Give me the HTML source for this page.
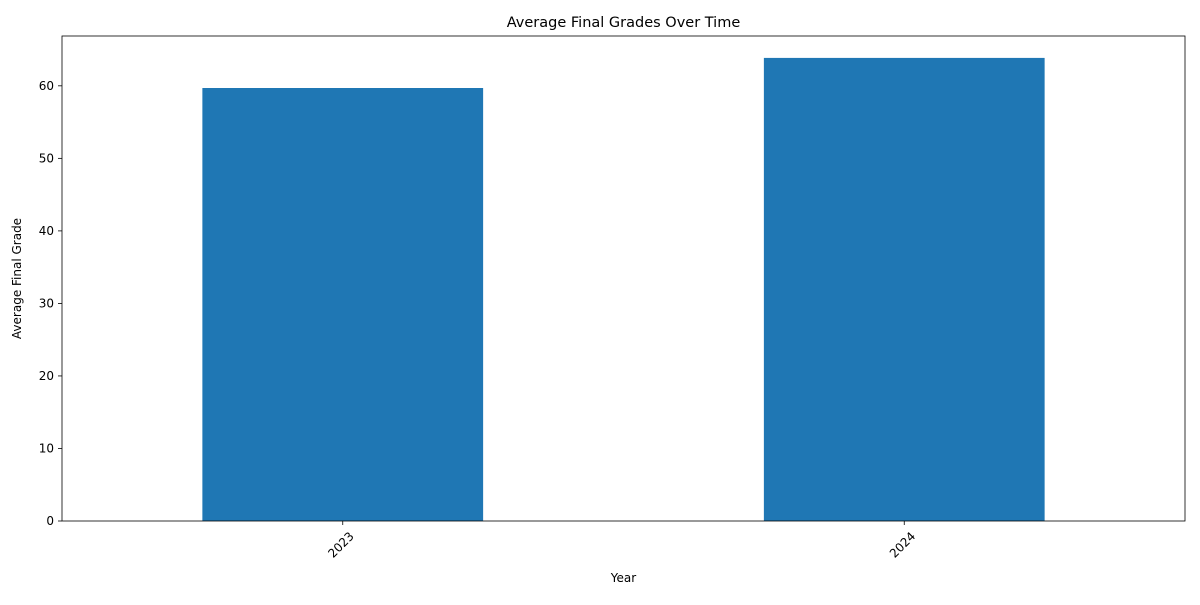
<!DOCTYPE html>
<html><head><meta charset="utf-8"><style>
body{margin:0;background:#fff;font-family:"Liberation Sans","DejaVu Sans",sans-serif;}
svg text{font-family:"DejaVu Sans","Liberation Sans",sans-serif;}
</style></head><body>
<svg id="chart" width="1200" height="600"></svg>
<script>
const categories = ["2023", "2024"];
const values = [59.7, 63.85];
const yTicks = [0, 10, 20, 30, 40, 50, 60];

const L = 62, R = 1185, T = 36, B = 521;
const yMax = 66.87;
const xScale = i => L + (i + 0.5) * (R - L) / categories.length;
const yScale = v => B - v / yMax * (B - T);
const unit = (R - L) / categories.length;
const svg = document.getElementById('chart');
const NS = 'http://www.w3.org/2000/svg';
function mk(tag, attrs, parent) {
  const e = document.createElementNS(NS, tag);
  for (const k in attrs) e.setAttribute(k, attrs[k]);
  (parent || svg).appendChild(e);
  return e;
}

categories.forEach((c, i) => {
  const w = unit * 0.5;
  const r = mk('rect', {x: xScale(i) - w / 2, y: yScale(values[i]), width: w, height: B - yScale(values[i]), fill: '#1f77b4'});
  
  
  const tk = mk('line', {x1: xScale(i), x2: xScale(i), y1: B, y2: B + 4, stroke: '#000', 'stroke-width': 0.8});
  
  
  const lx = xScale(i) + 6, ly = B + 10;
  const t = mk('text', {x: lx, y: ly, 'font-size': 12, 'text-anchor': 'end', transform: `rotate(-45 ${lx} ${ly})`, dy: '0.7em'});
  t.textContent = c;
  
  
});

yTicks.forEach(v => {
  const y = yScale(v);
  const tk = mk('line', {x1: L - 4, x2: L, y1: y, y2: y, stroke: '#000', 'stroke-width': 0.8});
  
  
  const t = mk('text', {x: L - 8, y: y + 4, 'font-size': 12, 'text-anchor': 'end'});
  t.textContent = v;
  
  
});

const frame = mk('rect', {x: L, y: T, width: R - L, height: B - T, fill: 'none', stroke: '#000', 'stroke-width': 0.8});



const title = mk('text', {x: (L + R) / 2, y: 27, 'font-size': 14.5, 'text-anchor': 'middle'});
title.textContent = 'Average Final Grades Over Time';



const xt = mk('text', {x: (L + R) / 2, y: 582, 'font-size': 12, 'text-anchor': 'middle'});
xt.textContent = 'Year';



const yt = mk('text', {x: 25, y: (T + B) / 2, 'font-size': 12, 'text-anchor': 'middle', transform: `rotate(-90 25 ${(T + B) / 2})`});
yt.setAttribute('x', 21);
yt.setAttribute('transform', `rotate(-90 21 ${(T + B) / 2})`);
yt.textContent = 'Average Final Grade';


</script>
</body></html>
